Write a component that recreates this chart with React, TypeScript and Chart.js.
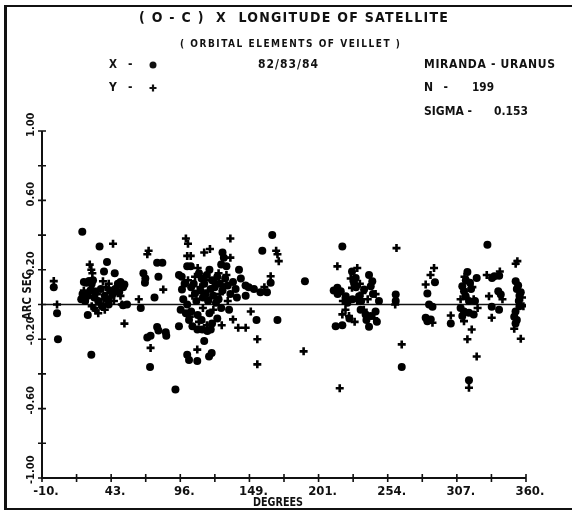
import React, { useEffect, useRef } from "react";
import { Chart, registerables } from "chart.js";

Chart.register(...registerables);

// ---------- texts ----------
const TITLE = "( O - C )  X  LONGITUDE OF SATELLITE";
const SUBTITLE = "( ORBITAL ELEMENTS OF VEILLET )";
const DATE_TEXT = "82/83/84";
const OBJECT_TEXT = "MIRANDA - URANUS";
const N_VALUE = "199";
const SIGMA_VALUE = "0.153";
const X_TITLE = "DEGREES";
const Y_TITLE = "ARC SEC";

// ---------- axes ----------
const X_MIN = -10;
const X_MAX = 360;
const Y_MIN = -1;
const Y_MAX = 1;
const xTickValues = [-10, 42.857, 95.714, 148.571, 201.429, 254.286, 307.143, 360];
const xTickLabels = ["-10.", "43.", "96.", "149.", "201.", "254.", "307.", "360."];
const xMarkValues = [-10, 16.43, 42.857, 69.29, 95.714, 122.14, 148.571, 175, 201.429, 227.86, 254.286, 280.71, 307.143, 333.57, 360];
const yTickValues = [1, 0.6, 0.2, -0.2, -0.6, -1];
const yTickLabels = ["1.00", "0.60", "0.20", "-0.20", "-0.60", "-1.00"];
const yMarkValues = [1, 0.8, 0.6, 0.4, 0.2, 0, -0.2, -0.4, -0.6, -0.8, -1];

// ---------- data: [longitude deg, residual arc sec] ----------
// X residuals (filled circles)
const xResiduals: [number, number][] = [
  [-1, 0.10], [1.5, -0.05], [2.2, -0.20],
  [20.8, 0.42], [34, 0.335], [39.7, 0.245], [37.4, 0.19], [45.6, 0.18], [22, 0.13], [24, 0.125], [26, 0.135],
  [28, 0.12], [29, 0.14], [48, 0.12], [50, 0.13], [52, 0.10], [53, 0.115], [20, 0.03], [21, 0.06], [23, 0.02],
  [25, 0.05], [27, 0.08], [30, 0.04], [31, 0.07], [33, 0.02], [35, 0.09], [38, 0.05], [40, 0.03], [42, 0.08],
  [44, 0.06], [46, 0.09], [49, 0.07], [25, -0.06], [27.7, -0.29], [52, -0.005], [36, -0.01], [41, 0.0], [55, 0.0],
  [65.5, -0.02], [67.5, 0.18], [68.7, 0.125], [76, 0.04], [78, 0.24], [82, 0.24], [79, 0.16], [78, -0.13],
  [79, -0.15], [84.6, -0.16], [85, -0.18], [70.5, -0.19], [73, -0.18], [72.6, -0.36], [69, 0.15],
  [92, -0.49], [94.7, -0.125], [101, 0.22], [103.7, 0.22], [94.7, 0.17], [96.8, 0.16], [97, 0.086], [107, 0.063],
  [128, 0.30], [129, 0.27], [127, 0.23], [131, 0.22], [140.6, 0.2], [96, -0.03], [100, -0.05], [102.4, -0.09],
  [101, 0], [105, -0.125], [108.8, -0.144], [112.6, -0.144], [116.4, -0.153], [114, -0.21], [101, -0.29],
  [102.4, -0.32], [108.7, -0.325], [117.7, -0.30], [119.7, -0.28], [133, -0.03], [145.7, 0.05], [119, -0.144],
  [110, 0.18], [112, 0.15], [114, 0.12], [116, 0.17], [118, 0.2], [120, 0.14], [122, 0.1], [124, 0.16], [126, 0.12],
  [128, 0.08], [130, 0.15], [132, 0.11], [134, 0.06], [136, 0.13], [138, 0.09], [111, 0.08], [113, 0.04], [115, 0.06],
  [117, 0.02], [119, 0.09], [121, 0.05], [123, 0.01], [125, 0.03], [127, -0.02], [106, 0.12], [108, 0.02], [104, 0.1],
  [99, 0.12], [109, -0.06], [112, -0.09], [118, -0.05], [124, -0.08], [104, -0.04], [120, -0.11], [98, 0.03],
  [158.4, 0.31], [166, 0.40], [164.8, 0.125], [145.6, 0.11], [152, 0.09], [157, 0.07], [162, 0.07], [148, 0.1],
  [154, -0.09], [170, -0.09], [191, 0.134], [142, 0.15], [139, 0.04],
  [219.6, 0.335], [214.5, -0.125], [219.6, -0.12], [240, -0.128], [215.8, 0.096], [218.4, 0.076], [222.2, 0.048],
  [227, 0.19], [229.8, 0.153], [228.5, 0.125], [240, 0.17], [242.5, 0.134], [241.3, 0.105], [233.6, -0.03],
  [237.4, -0.057], [241.3, -0.067], [245, -0.04], [247.6, 0.02], [223.5, 0.01], [227.3, 0.03], [232.4, 0.048],
  [236.2, 0.086], [213, 0.08], [216, 0.06], [225, -0.08], [230, 0.1], [238, -0.09], [243, 0.06], [246, -0.1], [234, 0.02],
  [260.4, 0.057], [260.4, 0.02], [265, -0.36],
  [290.4, 0.128], [284.6, 0.063], [285.9, 0], [288.5, -0.013], [283.3, -0.076], [287.2, -0.086], [284.6, -0.096],
  [302.5, -0.11], [315.2, 0.188], [322.3, 0.153], [317.2, 0.125], [311.3, 0.105], [312.6, 0.076], [313.9, 0.048],
  [316.4, 0.02], [312.6, -0.04], [316.4, -0.048], [320, -0.057], [311.3, -0.067], [316.4, -0.437], [314, 0.14],
  [318, 0.09], [321, 0.02], [310, -0.02],
  [330.5, 0.345], [334, 0.153], [335.8, 0.163], [339.5, 0.165], [338.8, 0.076], [340.7, 0.057], [333.8, -0.013],
  [339.4, -0.03], [352.1, 0.134], [353, 0.09], [355, 0.05], [354.5, 0.02], [355, -0.01], [352, -0.04], [351, -0.07],
  [353, -0.09], [352, -0.11], [354, 0.11], [356, 0.07],
];

// Y residuals (plus signs)
const yResiduals: [number, number][] = [
  [-1, 0.135], [1.5, 0.0],
  [44.3, 0.35], [26.5, 0.23], [27.7, 0.20], [28.5, 0.18], [36.6, 0.134], [33, -0.05], [53, -0.11], [22, 0.08],
  [24, 0.04], [29, 0.09], [32, 0.06], [34, 0.0], [37, 0.03], [39, 0.1], [43, 0.04], [45, 0.02], [47, 0.1], [50, 0.05],
  [30, -0.02], [38, -0.03], [28, -0.01], [41, 0.12], [51, 0.0], [31, -0.035],
  [64, 0.03], [70.5, 0.29], [71.5, 0.31], [82.7, 0.086], [73, -0.25],
  [100, 0.38], [101.6, 0.35], [101, 0.28], [103.7, 0.28], [101.6, 0.14], [114, 0.30], [118.4, 0.32], [134, 0.38],
  [134, 0.27], [108.7, -0.26], [136, -0.086], [127.4, -0.12], [140, -0.134], [145.7, -0.134], [107, 0.16], [111, 0.1],
  [115, 0.14], [119, 0.04], [123, 0.12], [126, 0.06], [129, 0.1], [132, 0.02], [105, 0.05], [113, -0.02], [117, 0.08],
  [121, -0.03], [125, 0.18], [103, -0.07], [109, 0.21], [131, 0.17], [110, -0.1], [116, -0.12],
  [169, 0.31], [170, 0.29], [171, 0.25], [164.8, 0.163], [149.6, -0.04], [154.6, -0.2], [154.6, -0.345], [190, -0.27],
  [160, 0.1],
  [215.8, 0.22], [217.6, -0.483], [222, -0.03], [224.7, -0.067], [219.6, -0.057], [231, 0.21], [227, 0.096],
  [235, 0.067], [231, 0.02], [239, 0.03], [245, 0.06], [226, 0.15], [236, -0.03], [244, -0.08], [220, 0.02],
  [233, 0.12], [229, -0.1],
  [261, 0.325], [260, 0.0], [265, -0.23],
  [289.7, 0.21], [287, 0.17], [283.3, 0.115], [288.5, -0.105], [302.5, -0.063], [310, 0.03], [320, 0.03],
  [312.6, -0.096], [318.5, -0.144], [315.2, -0.2], [322.3, -0.3], [316.4, -0.48], [319, 0.1], [313, 0.16], [323, -0.02],
  [330, 0.17], [340, 0.19], [331.7, 0.048], [342, 0.03], [333.8, -0.076], [353.4, 0.25], [352.1, 0.235], [357, 0.04],
  [358, -0.01], [351, -0.14], [356, -0.197],
];

const FONT = "'Liberation Sans Narrow', 'DejaVu Sans Condensed', 'Liberation Sans', sans-serif";
const INK = "#111";

// draws text so that it spans x0..x1 (widen with letter spacing, or compress)
function fitText(ctx: CanvasRenderingContext2D, text: string, x0: number, x1: number, y: number, size: number) {
  ctx.font = `bold ${size}px ${FONT}`;
  (ctx as any).letterSpacing = "0px";
  ctx.textAlign = "left";
  ctx.textBaseline = "middle";
  const target = x1 - x0;
  const w = ctx.measureText(text).width;
  const n = text.length;
  if (w < target && n > 1) {
    const ls = (target - w) / (n - 1);
    (ctx as any).letterSpacing = `${ls.toFixed(2)}px`;
    ctx.fillText(text, x0, y);
    (ctx as any).letterSpacing = "0px";
  } else {
    ctx.fillText(text, x0, y, target);
  }
}

const decorPlugin = {
  id: "plotterDecor",
  beforeDatasetsDraw(chart: any) {
    const ctx: CanvasRenderingContext2D = chart.ctx;
    const xs = chart.scales.x;
    const ys = chart.scales.y;
    const xL = xs.getPixelForValue(X_MIN);
    const xR = xs.getPixelForValue(X_MAX);
    const yT = ys.getPixelForValue(Y_MAX);
    const yB = ys.getPixelForValue(Y_MIN);
    ctx.save();
    ctx.strokeStyle = INK;
    ctx.fillStyle = INK;

    // frame
    ctx.lineWidth = 3;
    ctx.beginPath();
    ctx.moveTo(5.5, 6);
    ctx.lineTo(5.5, 509);
    ctx.stroke();
    ctx.lineWidth = 2;
    ctx.beginPath();
    ctx.moveTo(4, 6);
    ctx.lineTo(572, 6);
    ctx.moveTo(4, 509);
    ctx.lineTo(572, 509);
    ctx.stroke();

    // axes
    ctx.lineWidth = 2;
    ctx.beginPath();
    ctx.moveTo(xL, yT);
    ctx.lineTo(xL, yB);
    ctx.lineTo(xR, yB);
    ctx.stroke();
    ctx.lineWidth = 1.6;
    ctx.beginPath();
    for (const v of yMarkValues) {
      const p = ys.getPixelForValue(v);
      ctx.moveTo(xL - 4, p);
      ctx.lineTo(xL + 4, p);
    }
    for (const v of xMarkValues) {
      const p = xs.getPixelForValue(v);
      ctx.moveTo(p, yB - 4);
      ctx.lineTo(p, yB + 4);
    }
    ctx.stroke();

    // zero line
    ctx.lineWidth = 1.5;
    const y0 = ys.getPixelForValue(0);
    ctx.beginPath();
    ctx.moveTo(xL, y0);
    ctx.lineTo(xR, y0);
    ctx.stroke();

    // x tick labels
    ctx.font = `bold 13px ${FONT}`;
    ctx.textAlign = "center";
    ctx.textBaseline = "middle";
    xTickValues.forEach((v, i) => {
      ctx.fillText(xTickLabels[i], xs.getPixelForValue(v) + 4, 492);
    });
    fitText(ctx, X_TITLE, 253, 303, 503, 13);

    // y tick labels (rotated)
    ctx.font = `bold 11px ${FONT}`;
    yTickValues.forEach((v, i) => {
      const p = ys.getPixelForValue(v);
      ctx.save();
      ctx.translate(31, p + 6);
      ctx.rotate(-Math.PI / 2);
      ctx.textAlign = "left";
      ctx.textBaseline = "middle";
      ctx.fillText(yTickLabels[i], 0, 0);
      ctx.restore();
    });
    ctx.save();
    ctx.translate(28, 320);
    ctx.rotate(-Math.PI / 2);
    fitText(ctx, Y_TITLE, 0, 48, 0, 13);
    ctx.restore();

    // header texts
    fitText(ctx, TITLE, 139, 448, 18, 14);
    fitText(ctx, SUBTITLE, 180, 400, 44, 10);
    fitText(ctx, "X", 109, 117, 65, 12);
    fitText(ctx, "-", 128, 133, 65, 12);
    fitText(ctx, "Y", 109, 117, 88, 12);
    fitText(ctx, "-", 128, 133, 88, 12);
    ctx.beginPath();
    ctx.arc(153, 65, 3.5, 0, Math.PI * 2);
    ctx.fill();
    ctx.lineWidth = 2.2;
    ctx.beginPath();
    ctx.moveTo(149.5, 88);
    ctx.lineTo(156.5, 88);
    ctx.moveTo(153, 84.5);
    ctx.lineTo(153, 91.5);
    ctx.stroke();
    fitText(ctx, DATE_TEXT, 258, 318, 65, 12);
    fitText(ctx, OBJECT_TEXT, 424, 555, 65, 12);
    fitText(ctx, "N -", 424, 448, 88, 12);
    fitText(ctx, N_VALUE, 472, 494, 88, 12);
    fitText(ctx, "SIGMA -", 424, 472, 112, 12);
    fitText(ctx, SIGMA_VALUE, 494, 528, 112, 12);
    ctx.restore();
  },
};

export default function App() {
  const ref = useRef<HTMLCanvasElement | null>(null);
  useEffect(() => {
    document.body.style.margin = "0";
    document.body.style.background = "#fff";
    const canvas = ref.current;
    if (!canvas) return;
    const chart = new Chart(canvas, {
      type: "scatter",
      data: {
        datasets: [
          {
            label: "X",
            data: xResiduals.map(([d, v]) => ({ x: d, y: v })),
            pointStyle: "circle",
            pointRadius: 4,
            backgroundColor: "#000",
            borderColor: "#000",
            borderWidth: 0,
          },
          {
            label: "Y",
            data: yResiduals.map(([d, v]) => ({ x: d, y: v })),
            pointStyle: "cross",
            pointRadius: 4,
            backgroundColor: "#000",
            borderColor: "#000",
            borderWidth: 2.6,
          },
        ],
      },
      options: {
        responsive: false,
        animation: false,
        devicePixelRatio: 1,
        layout: { padding: { left: 42, right: 46, top: 131, bottom: 33 } },
        plugins: { legend: { display: false }, tooltip: { enabled: false } },
        scales: {
          x: { type: "linear", min: X_MIN, max: X_MAX, display: false },
          y: { type: "linear", min: Y_MIN, max: Y_MAX, display: false },
        },
      },
      plugins: [decorPlugin],
    });
    return () => chart.destroy();
  }, []);
  return (
    <canvas
      ref={ref}
      width={572}
      height={511}
      style={{ display: "block", width: 572, height: 511 }}
    />
  );
}
